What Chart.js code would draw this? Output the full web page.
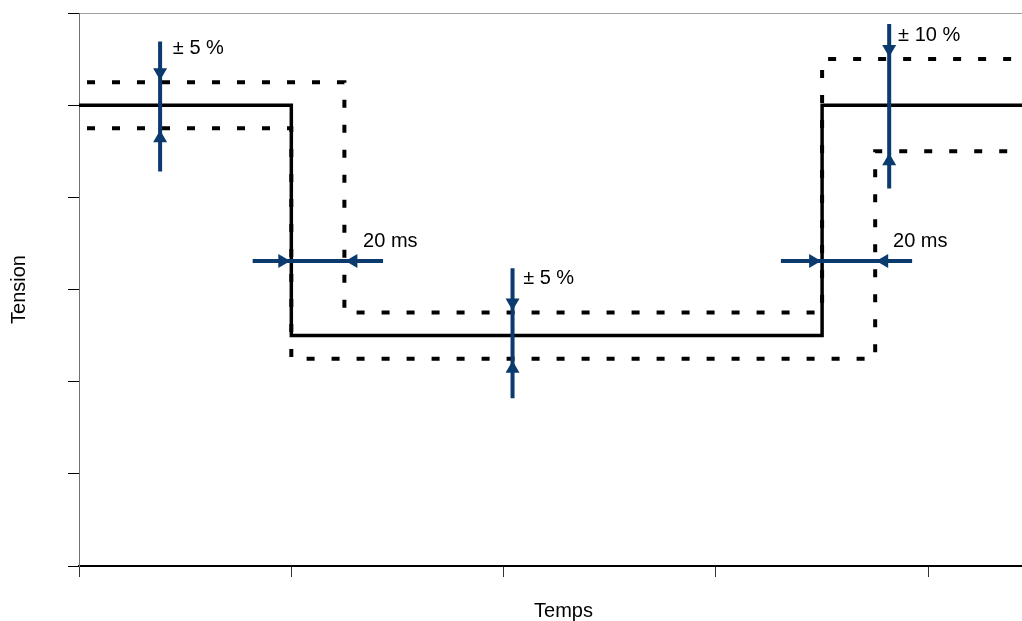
<!DOCTYPE html>
<html>
<head>
<meta charset="utf-8">
<script src="https://cdn.jsdelivr.net/npm/chart.js@4/dist/chart.umd.min.js"></script>
<style>
  html, body { margin: 0; padding: 0; overflow: hidden; background: #fff; }
  #wrap { width: 1048px; height: 621px; }
</style>
</head>
<body>
<div id="wrap"><canvas id="chart"></canvas></div>
<script>
// Gabarit de tension (% du nominal) en fonction du temps
const tNominal = [0, 50, 50, 175, 175, 230];
const vNominal = [100, 100, 50, 50, 100, 100];
const tUpper = [0, 62.5, 62.5, 175, 175, 230];
const vUpper = [105, 105, 55, 55, 110, 110];
const tLower = [0, 50, 50, 187.5, 187.5, 230];
const vLower = [95, 95, 45, 45, 90, 90];

// Flèches de cotation
const vArrowX = [19.1, 102.1, 190.8];
const vArrowFrom = [113.8, 64.6, 117.6];
const vArrowTo = [85.6, 36.4, 81.9];
const vArrowTips = [[105, 95], [55, 45], [110, 90]];
const hArrowY = [66.2, 66.2];
const hArrowFrom = [40.9, 165.3];
const hArrowTo = [71.6, 196.2];
const hArrowTips = [[50, 62.5], [175, 187.5]];

// Textes des cotes
const labelText = ["± 5 %", "± 5 %", "± 10 %", "20 ms", "20 ms"];
const labelX = [22.1, 104.6, 192.9, 66.9, 191.7];
const labelY = [112.2, 62.4, 115.1, 70.4, 70.4];

const yTicks = [0, 20, 40, 60, 80, 100, 120];

const arrowColor = "#0a3a6e";
const fontFamily = '"Liberation Sans", Arial, sans-serif';

function toPoints(xs, ys) {
  return xs.map((v, i) => ({ x: v, y: ys[i] }));
}

const datasets = [];

// Tiges des flèches (dessinées au-dessus des courbes)
vArrowX.forEach((vx, i) => {
  datasets.push({
    data: [{ x: vx, y: vArrowFrom[i] }, { x: vx, y: vArrowTo[i] }],
    borderColor: arrowColor,
    borderWidth: 4,
    pointRadius: 0,
  });
});
hArrowY.forEach((hy, i) => {
  datasets.push({
    data: [{ x: hArrowFrom[i], y: hy }, { x: hArrowTo[i], y: hy }],
    borderColor: arrowColor,
    borderWidth: 4,
    pointRadius: 0,
  });
});

datasets.push({
  label: "Nominal",
  data: toPoints(tNominal, vNominal),
  borderColor: "#000",
  borderWidth: 3.5,
  pointRadius: 0,
});
datasets.push({
  label: "Limite haute",
  data: toPoints(tUpper, vUpper),
  borderColor: "#000",
  borderWidth: 4,
  borderDash: [8, 17],
  borderDashOffset: 17,
  pointRadius: 0,
});
datasets.push({
  label: "Limite basse",
  data: toPoints(tLower, vLower),
  borderColor: "#000",
  borderWidth: 4,
  borderDash: [8, 17],
  borderDashOffset: 17,
  pointRadius: 0,
});

// Pointe de flèche : sommet en (tx, ty), direction (dx, dy)
function drawHead(ctx, tx, ty, dx, dy) {
  const len = 12;
  const half = 7;
  ctx.beginPath();
  ctx.moveTo(tx, ty);
  ctx.lineTo(tx - dx * len - dy * half, ty - dy * len + dx * half);
  ctx.lineTo(tx - dx * len + dy * half, ty - dy * len - dx * half);
  ctx.closePath();
  ctx.fill();
}

const annotations = {
  id: "annotations",
  afterDatasetsDraw(chart) {
    const { ctx, scales } = chart;
    const x = scales.x;
    const y = scales.y;
    ctx.save();
    ctx.fillStyle = arrowColor;
    vArrowX.forEach((vx, i) => {
      const px = x.getPixelForValue(vx);
      drawHead(ctx, px, y.getPixelForValue(vArrowTips[i][0]) - 2, 0, 1);
      drawHead(ctx, px, y.getPixelForValue(vArrowTips[i][1]) + 2, 0, -1);
    });
    hArrowY.forEach((hy, i) => {
      const py = y.getPixelForValue(hy);
      drawHead(ctx, x.getPixelForValue(hArrowTips[i][0]) - 1, py, 1, 0);
      drawHead(ctx, x.getPixelForValue(hArrowTips[i][1]) + 1, py, -1, 0);
    });

    ctx.fillStyle = "#000";
    ctx.font = "20px " + fontFamily;
    ctx.textAlign = "left";
    ctx.textBaseline = "middle";
    labelText.forEach((t, i) => {
      ctx.fillText(t, x.getPixelForValue(labelX[i]), y.getPixelForValue(labelY[i]));
    });
    ctx.restore();
  },
};

new Chart(document.getElementById("chart"), {
  type: "line",
  data: { datasets: datasets },
  plugins: [annotations],
  options: {
    responsive: true,
    maintainAspectRatio: false,
    animation: false,
    layout: { padding: { top: 13, right: 0, bottom: 0, left: 0 } },
    plugins: {
      legend: { display: false },
      tooltip: { enabled: false },
    },
    elements: { line: { tension: 0 } },
    scales: {
      x: {
        type: "linear",
        min: 0,
        max: 228.2,
        ticks: { display: false, stepSize: 50, includeBounds: false },
        grid: {
          drawOnChartArea: false,
          drawTicks: true,
          tickLength: 11,
          tickColor: "#333",
        },
        border: { color: "#000", width: 2 },
        title: {
          display: true,
          text: "Temps",
          color: "#000",
          font: { family: fontFamily, size: 20, lineHeight: 1 },
          padding: { top: 24, bottom: 0 },
        },
      },
      y: {
        type: "linear",
        min: 0,
        max: 120,
        afterBuildTicks(scale) {
          scale.ticks = yTicks.map((v) => ({ value: v }));
        },
        ticks: { display: false },
        grid: {
          drawOnChartArea: true,
          drawTicks: true,
          tickLength: 11,
          color: (c) => (c.tick && c.tick.value === 120 ? "#a0a0a0" : "rgba(0,0,0,0)"),
          tickColor: "#000",
        },
        border: { color: "#707070", width: 1 },
        title: {
          display: true,
          text: "Tension",
          color: "#000",
          font: { family: fontFamily, size: 20, lineHeight: 1 },
          padding: { top: 9, bottom: 39 },
        },
      },
    },
  },
});
</script>
</body>
</html>
